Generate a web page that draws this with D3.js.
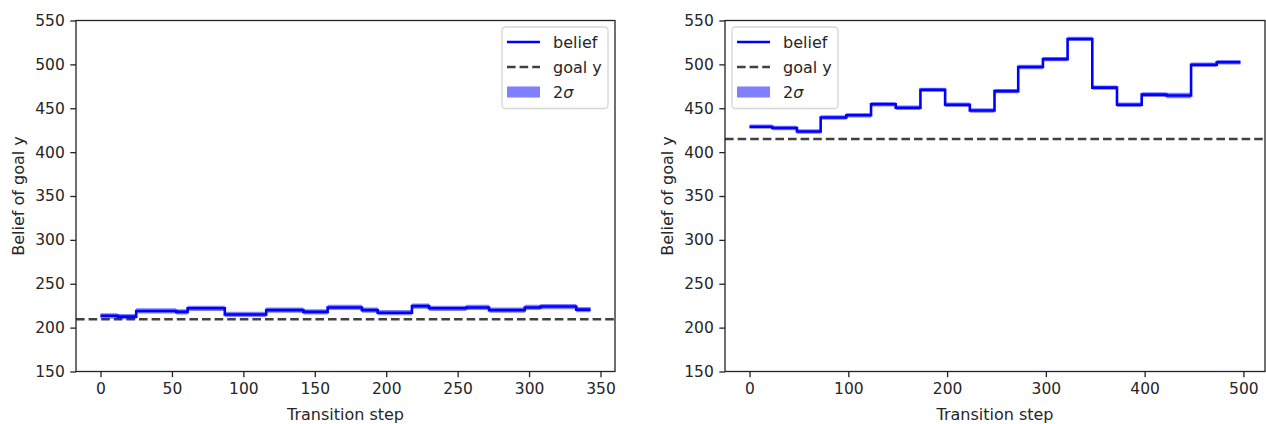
<!DOCTYPE html>
<html>
<head>
<meta charset="utf-8">
<script src="https://cdn.jsdelivr.net/npm/d3@7"></script>
<style>
  html, body { margin: 0; padding: 0; background: #fff; }
  svg { display: block; font-family: "DejaVu Sans", sans-serif; }
</style>
</head>
<body>
<svg id="chart" width="1266" height="424"></svg>
<script>
// ---- data: left run ----
const leftSteps  = [0, 12, 25, 53, 61, 87, 116, 142, 159, 183, 194, 218, 230, 256, 272, 297, 308, 333, 343];
const leftBelief = [213.5, 212.5, 219, 218, 222, 215, 220, 218, 223, 220, 217, 224.5, 222, 223, 220, 223, 224, 220.5, 220.5];
const leftTwoSigma = [3, 3, 3, 3, 3, 3, 3, 3, 3, 3, 3, 3, 3, 3, 3, 3, 3, 3, 3];
const leftGoal = 209.5;
const leftXTicks = [0, 50, 100, 150, 200, 250, 300, 350];

// ---- data: right run ----
const rightSteps  = [0, 23, 48, 72, 98, 123, 148, 173, 198, 223, 248, 272, 297, 322, 347, 372, 397, 422, 447, 473, 497];
const rightBelief = [429, 427.5, 423.5, 439.5, 442, 454.5, 450.5, 471, 454, 447.5, 469.5, 497, 506, 529, 473.5, 454, 465.5, 464.5, 499.5, 502.5, 502.5];
const rightTwoSigma = [2.5, 2.5, 2.5, 2.5, 2.5, 2.5, 2.5, 2.5, 2.5, 2.5, 2.5, 2.5, 2.5, 2.5, 2.5, 2.5, 2.8, 3.2, 2.5, 2.5, 2.5];
const rightGoal = 415;
const rightXTicks = [0, 100, 200, 300, 400, 500];

const yTicks = [150, 200, 250, 300, 350, 400, 450, 500, 550];
const legendLabels = ["belief", "goal y", "2σ"];

const svg = d3.select("#chart");
const plotTop = 20.5, plotBottom = 371.5;
const tickFont = 15.5, labelFont = 16;

function drawPanel(cfg, idx) {
  const {steps, belief, twoSigma, goal, xTicks, x0, x1, legendX} = cfg;
  const xMax = steps[steps.length - 1];
  const pad = xMax * 0.05;
  const x = d3.scaleLinear().domain([-pad, xMax + pad]).range([x0, x1]);
  const y = d3.scaleLinear().domain([150, 550]).range([plotBottom, plotTop]);

  const g = svg.append("g");
  const clipId = "clip" + idx;
  g.append("clipPath").attr("id", clipId)
    .append("rect").attr("x", x0).attr("y", plotTop).attr("width", x1 - x0).attr("height", plotBottom - plotTop);

  const pts = steps.map((s, i) => ({s, b: belief[i], w: twoSigma[i]}));
  const plot = g.append("g").attr("clip-path", `url(#${clipId})`);

  // belief trace
  plot.append("path").datum(pts)
    .attr("fill", "none").attr("stroke", "#0000ff").attr("stroke-width", 2.6)
    .attr("d", d3.line().x(d => x(d.s)).y(d => y(d.b)).curve(d3.curveStepAfter));

  // goal line
  plot.append("line")
    .attr("x1", x0).attr("x2", x1).attr("y1", y(goal)).attr("y2", y(goal))
    .attr("stroke", "#000").attr("stroke-opacity", 0.75).attr("stroke-width", 2.4)
    .attr("stroke-dasharray", "8.6,4");

  // 2 sigma band
  plot.append("path").datum(pts)
    .attr("fill", "#0000ff").attr("fill-opacity", 0.5)
    .attr("d", d3.area().x(d => x(d.s)).y0(d => y(d.b - d.w)).y1(d => y(d.b + d.w)).curve(d3.curveStepAfter));

  // axes
  const xAxis = g.append("g").attr("transform", `translate(0,${plotBottom})`)
    .call(d3.axisBottom(x).tickValues(xTicks).tickSize(5.7).tickPadding(5.5).tickFormat(d3.format("d")));
  const yAxis = g.append("g").attr("transform", `translate(${x0},0)`)
    .call(d3.axisLeft(y).tickValues(yTicks).tickSize(5.7).tickPadding(5.5).tickFormat(d3.format("d")));
  [xAxis, yAxis].forEach(a => {
    a.select(".domain").remove();
    a.selectAll(".tick line").attr("stroke", "#222").attr("stroke-width", 1.3);
    a.selectAll(".tick text").attr("fill", "#262626").attr("font-size", tickFont)
      .attr("font-family", "DejaVu Sans, sans-serif");
  });

  // frame
  g.append("rect").attr("x", x0).attr("y", plotTop).attr("width", x1 - x0).attr("height", plotBottom - plotTop)
    .attr("fill", "none").attr("stroke", "#222").attr("stroke-width", 1.3);

  // axis titles
  g.append("text").attr("x", (x0 + x1) / 2).attr("y", 419.5).attr("text-anchor", "middle")
    .attr("font-size", labelFont).attr("fill", "#262626").text("Transition step");
  g.append("text").attr("transform", `translate(${x0 - 52.5},${(plotTop + plotBottom) / 2}) rotate(-90)`)
    .attr("text-anchor", "middle").attr("font-size", labelFont).attr("fill", "#262626")
    .text("Belief of goal y");

  // legend
  const lg = g.append("g").attr("transform", `translate(${legendX},27)`);
  lg.append("rect").attr("width", 106).attr("height", 81.5).attr("rx", 3.5)
    .attr("fill", "#fff").attr("fill-opacity", 0.8).attr("stroke", "#d6d6d6").attr("stroke-width", 1.3);
  const rowY = [15, 40, 65];
  lg.append("line").attr("x1", 5).attr("x2", 38).attr("y1", rowY[0]).attr("y2", rowY[0])
    .attr("stroke", "#0000ff").attr("stroke-width", 2.6);
  lg.append("line").attr("x1", 5).attr("x2", 38).attr("y1", rowY[1]).attr("y2", rowY[1])
    .attr("stroke", "#000").attr("stroke-opacity", 0.75).attr("stroke-width", 2.4)
    .attr("stroke-dasharray", "8.6,4");
  lg.append("rect").attr("x", 5).attr("y", rowY[2] - 5.5).attr("width", 33).attr("height", 11)
    .attr("fill", "#0000ff").attr("fill-opacity", 0.5);
  legendLabels.forEach((lab, i) => {
    const t = lg.append("text").attr("x", 51).attr("y", rowY[i] + 5.5)
      .attr("font-size", labelFont).attr("fill", "#262626");
    if (lab === "2σ") {
      t.append("tspan").text("2");
      t.append("tspan").attr("font-style", "italic").text("σ");
    } else {
      t.text(lab);
    }
  });
}

drawPanel({steps: leftSteps, belief: leftBelief, twoSigma: leftTwoSigma, goal: leftGoal,
  xTicks: leftXTicks, x0: 76, x1: 615, legendX: 502}, 0);
drawPanel({steps: rightSteps, belief: rightBelief, twoSigma: rightTwoSigma, goal: rightGoal,
  xTicks: rightXTicks, x0: 725, x1: 1265, legendX: 732}, 1);
</script>
</body>
</html>
